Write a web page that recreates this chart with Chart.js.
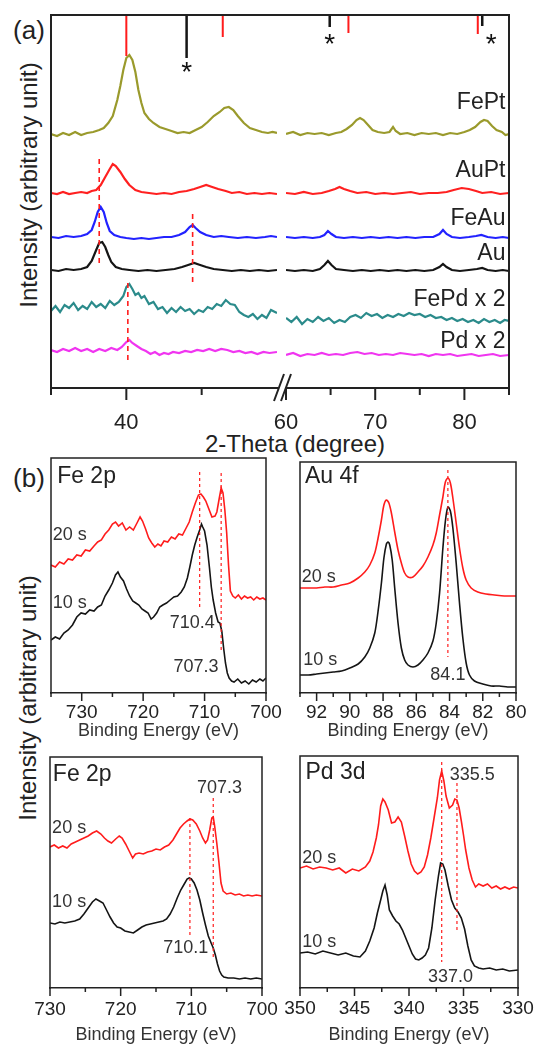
<!DOCTYPE html>
<html>
<head>
<meta charset="utf-8">
<script src="https://cdn.jsdelivr.net/npm/chart.js@4.4.1/dist/chart.umd.min.js"></script>
<style>
  html, body { margin: 0; padding: 0; background: #fff; }
  body { width: 535px; height: 1049px; position: relative; overflow: hidden;
         font-family: 'Liberation Sans', Arial, sans-serif; color: #222; }
  canvas.layer { position: absolute; left: 0; top: 0; width: 535px; height: 1049px; }
  .txt { position: absolute; white-space: nowrap; line-height: 1; transform: translate(-50%, -50%); }
  .rot { transform: translate(-50%, -50%) rotate(-90deg); }
</style>
</head>
<body>
<div class="txt" style="left:29px;top:30px;font-size:26px">(a)</div>
<div class="txt" style="left:29px;top:478px;font-size:26px">(b)</div>
<div class="txt rot" style="left:29px;top:185px;font-size:24px">Intensity (arbitrary unit)</div>
<div class="txt rot" style="left:28px;top:698px;font-size:24px">Intensity (arbitrary unit)</div>
<div class="txt" style="left:295px;top:444px;font-size:24px">2-Theta (degree)</div>

<canvas class="layer" id="xrdL" width="535" height="1049"></canvas>
<canvas class="layer" id="xrdR" width="535" height="1049"></canvas>
<canvas class="layer" id="fe1" width="535" height="1049"></canvas>
<canvas class="layer" id="au" width="535" height="1049"></canvas>
<canvas class="layer" id="fe2" width="535" height="1049"></canvas>
<canvas class="layer" id="pd" width="535" height="1049"></canvas>

<script>
'use strict';

// ===== XRD data (2-theta, intensity a.u.), left segment 35-50, right segment 60-85 =====
const FePt_L = [[35.0,254],[35.4,252],[35.8,255],[36.2,253],[36.6,256],[37.0,253],[37.4,255],[37.8,256],[38.2,258],[38.5,260],[38.8,265],[39.1,272],[39.4,288],[39.6,302],[39.8,318],[40.0,330],[40.2,333],[40.4,328],[40.6,316],[40.8,298],[41.0,285],[41.2,275],[41.5,269],[41.8,265],[42.2,261],[42.6,259],[43.0,257],[43.4,255],[43.8,256],[44.2,255],[44.6,258],[45.0,261],[45.4,266],[45.8,272],[46.2,276],[46.5,280],[46.8,281],[47.1,278],[47.4,272],[47.8,265],[48.2,260],[48.6,258],[49.0,256],[49.4,255],[49.7,256],[50.0,255]];
const FePt_R = [[60.0,254],[60.8,256],[61.6,253],[62.4,255],[63.2,254],[64.0,255],[64.8,253],[65.6,255],[66.2,256],[66.8,259],[67.4,263],[67.9,268],[68.3,270],[68.7,268],[69.2,263],[69.7,258],[70.3,256],[71.0,255],[71.6,256],[72.0,261],[72.3,257],[72.8,254],[73.6,255],[74.4,253],[75.2,255],[76.0,254],[76.8,255],[77.6,253],[78.4,255],[79.2,254],[80.0,256],[80.6,258],[81.2,261],[81.8,266],[82.2,268],[82.6,267],[83.1,262],[83.6,258],[84.2,256],[84.6,253],[85.0,254]];
const AuPt_L = [[35.0,195],[35.4,194],[35.8,196],[36.2,194],[36.6,195],[37.0,196],[37.4,195],[37.7,197],[38.0,198],[38.3,203],[38.6,211],[38.9,219],[39.1,224],[39.3,222],[39.6,216],[39.9,209],[40.2,203],[40.6,198],[41.0,196],[41.5,195],[42.0,194],[42.5,195],[43.0,194],[43.5,196],[44.0,197],[44.5,199],[44.9,201],[45.3,203],[45.7,201],[46.1,199],[46.6,197],[47.0,195],[47.5,196],[48.0,194],[48.5,195],[49.0,194],[49.5,195],[50.0,194]];
const AuPt_R = [[60.0,195],[61.0,194],[62.0,196],[63.0,194],[64.0,195],[64.8,197],[65.5,199],[66.0,201],[66.5,199],[67.2,197],[68.0,195],[69.0,196],[70.0,194],[71.0,195],[72.0,194],[73.0,195],[74.0,196],[75.0,194],[76.0,195],[77.0,195],[78.0,196],[78.8,198],[79.7,200],[80.5,199],[81.3,197],[82.0,195],[83.0,196],[84.0,194],[85.0,195]];
const FeAu_L = [[35.0,151],[35.5,150],[36.0,152],[36.5,151],[37.0,152],[37.4,154],[37.7,158],[37.9,166],[38.1,176],[38.3,181],[38.5,176],[38.7,165],[38.9,157],[39.2,153],[39.6,151],[40.0,150],[40.5,149],[41.0,150],[41.5,149],[42.0,150],[42.5,151],[43.0,151],[43.5,153],[43.9,156],[44.2,161],[44.4,163],[44.6,160],[44.9,156],[45.3,153],[45.8,151],[46.3,152],[46.8,151],[47.4,150],[48.0,151],[48.6,150],[49.2,151],[49.6,152],[50.0,151]];
const FeAu_R = [[60.0,151],[61.0,150],[62.0,151],[63.0,150],[63.8,151],[64.3,153],[64.7,157],[65.1,154],[65.6,151],[66.5,150],[67.5,151],[68.5,150],[69.5,151],[70.5,150],[71.5,151],[72.5,150],[73.5,151],[74.5,150],[75.5,151],[76.5,151],[77.2,154],[77.6,158],[78.0,154],[78.6,151],[79.5,150],[80.5,151],[81.3,152],[81.9,153],[82.6,151],[83.5,150],[84.3,151],[85.0,150]];
const Au_L = [[35.0,118],[35.5,117],[36.0,119],[36.5,118],[37.0,119],[37.4,121],[37.7,127],[38.0,138],[38.2,145],[38.4,146],[38.6,141],[38.8,133],[39.0,126],[39.3,121],[39.7,119],[40.2,118],[40.8,117],[41.4,118],[42.0,117],[42.6,118],[43.2,119],[43.7,121],[44.1,123],[44.5,125],[44.9,123],[45.3,121],[45.8,119],[46.4,118],[47.0,117],[47.6,118],[48.2,117],[48.8,118],[49.4,117],[50.0,118]];
const Au_R = [[60.0,118],[61.0,117],[62.0,118],[63.0,117],[63.8,119],[64.3,123],[64.7,127],[65.1,123],[65.6,119],[66.5,118],[67.5,117],[68.5,118],[69.5,117],[70.5,118],[71.5,117],[72.5,118],[73.5,117],[74.5,118],[75.5,117],[76.5,118],[77.2,121],[77.6,124],[78.0,121],[78.6,118],[79.5,117],[80.5,118],[81.4,119],[82.0,120],[82.6,118],[83.5,117],[84.3,118],[85.0,117]];
const FePd_L = [[35.0,77],[35.3,82],[35.6,76],[35.9,83],[36.2,80],[36.5,85],[36.8,78],[37.1,82],[37.4,79],[37.7,86],[38.0,81],[38.3,84],[38.6,80],[38.9,87],[39.2,83],[39.5,86],[39.8,92],[40.0,101],[40.2,104],[40.4,99],[40.6,93],[40.8,95],[41.0,90],[41.2,92],[41.5,84],[41.8,86],[42.1,79],[42.4,81],[42.7,75],[43.0,80],[43.3,76],[43.6,81],[43.9,77],[44.2,79],[44.5,74],[44.8,78],[45.1,76],[45.4,81],[45.7,79],[46.0,84],[46.3,82],[46.6,88],[46.9,84],[47.2,83],[47.5,76],[47.8,73],[48.1,71],[48.4,74],[48.7,69],[49.0,73],[49.3,70],[49.6,78],[50.0,75]];
const FePd_R = [[60.0,70],[60.6,66],[61.2,71],[61.8,64],[62.4,69],[63.0,66],[63.6,71],[64.2,67],[64.8,70],[65.4,65],[66.0,68],[66.6,66],[67.2,71],[67.8,73],[68.4,70],[69.0,75],[69.6,72],[70.2,74],[70.8,70],[71.4,73],[72.0,71],[72.6,74],[73.2,72],[73.8,75],[74.4,73],[75.0,74],[75.6,71],[76.2,73],[76.8,70],[77.4,71],[78.0,68],[78.6,70],[79.2,67],[79.8,69],[80.4,66],[81.0,68],[81.6,65],[82.2,69],[82.8,66],[83.4,68],[84.0,65],[84.5,68],[85.0,67]];
const Pd_L = [[35.0,38],[35.4,36],[35.8,39],[36.2,37],[36.6,40],[37.0,37],[37.4,39],[37.8,36],[38.2,39],[38.6,37],[39.0,40],[39.4,38],[39.7,41],[40.0,46],[40.2,48],[40.4,45],[40.7,42],[41.0,39],[41.3,37],[41.6,34],[41.9,36],[42.2,33],[42.5,35],[42.8,34],[43.1,36],[43.5,35],[43.9,37],[44.3,36],[44.7,38],[45.1,37],[45.5,39],[45.9,37],[46.3,39],[46.7,38],[47.1,36],[47.5,37],[47.9,35],[48.3,36],[48.7,34],[49.1,36],[49.5,35],[50.0,36]];
const Pd_R = [[60.0,33],[60.8,35],[61.6,32],[62.4,34],[63.2,33],[64.0,35],[64.8,33],[65.6,34],[66.4,33],[67.2,35],[68.0,36],[68.8,34],[69.6,35],[70.4,33],[71.2,34],[72.0,33],[72.8,35],[73.6,34],[74.4,33],[75.2,34],[76.0,32],[76.8,34],[77.6,33],[78.4,34],[79.2,32],[80.0,33],[80.8,34],[81.6,32],[82.4,33],[83.2,34],[84.0,32],[85.0,33]];

// reference patterns at the top: [2-theta, lower end]
const refRed   = [[40.0,332],[46.4,351],[67.0,355],[81.5,354]];
const refBlack = [[44.0,330],[64.9,361],[82.0,362]];
const refTop = 373;
// dashed guides in (a): [2-theta, from, to]
const xrdGuides = [[38.2,229,125],[44.4,174,103],[40.1,105,26]];
const xrdTicksL = [40], xrdTicksR = [60, 70, 80];

// ===== XPS data (binding energy eV, intensity a.u.) =====
const fe1_20s = [[735,128],[734.3,126],[733.6,131],[732.9,129],[732.2,134],[731.5,133],[730.8,138],[730.1,137],[729.4,143],[728.7,142],[728.0,147],[727.4,151],[726.8,153],[726.2,159],[725.6,163],[725.0,169],[724.5,171],[724.0,167],[723.4,170],[722.8,163],[722.2,166],[721.6,163],[721.0,170],[720.5,176],[720.1,172],[719.6,164],[719.1,155],[718.6,150],[718.1,146],[717.6,149],[717.1,147],[716.6,152],[716.0,151],[715.4,156],[714.8,154],[714.2,159],[713.6,158],[713.0,165],[712.5,171],[712.0,181],[711.5,190],[711.0,198],[710.6,199],[710.2,196],[709.8,192],[709.3,184],[708.8,176],[708.3,177],[708.0,181],[707.6,195],[707.3,205],[707.0,200],[706.7,183],[706.4,160],[706.1,128],[705.8,102],[705.4,97],[705.0,95],[704.5,98],[704.0,94],[703.5,97],[703.0,95],[702.5,96],[702.0,93],[701.5,96],[701.0,94],[700.5,95],[700.0,93]];
const fe1_10s = [[735,53],[734.3,56],[733.6,54],[732.9,60],[732.2,63],[731.5,68],[730.8,76],[730.1,80],[729.4,79],[728.7,83],[728.0,82],[727.4,86],[726.8,88],[726.2,97],[725.6,103],[725.0,110],[724.5,118],[724.1,121],[723.7,116],[723.2,112],[722.7,104],[722.2,97],[721.7,92],[721.2,90],[720.7,88],[720.2,84],[719.7,82],[719.2,80],[718.7,74],[718.3,76],[717.8,80],[717.3,86],[716.8,88],[716.2,90],[715.6,93],[715.0,96],[714.4,97],[713.8,101],[713.3,106],[712.8,115],[712.4,126],[712.0,138],[711.6,148],[711.2,156],[710.8,163],[710.5,169],[710.3,166],[710.0,162],[709.6,148],[709.2,125],[708.9,106],[708.6,93],[708.2,80],[707.8,71],[707.5,70],[707.2,62],[706.9,45],[706.6,30],[706.3,20],[706.0,15],[705.6,12],[705.2,11],[704.6,14],[704.0,10],[703.4,12],[702.8,9],[702.2,13],[701.6,11],[701.0,14],[700.5,12],[700.0,15]];
const fe1_guides = [[710.8,221,83],[707.3,220,40]];
const fe1_ticks = [730, 720, 710, 700];

const au_20s = [[93,105],[92.5,105],[92,105],[91.5,106],[91,106],[90.5,108],[90,110],[89.5,115],[89.1,121],[88.8,128],[88.5,140],[88.3,155],[88.1,173],[87.95,188],[87.8,193],[87.65,190],[87.5,180],[87.3,161],[87.1,143],[86.9,130],[86.7,120],[86.5,116],[86.2,116],[85.9,121],[85.6,127],[85.3,136],[85.0,148],[84.8,160],[84.6,178],[84.4,196],[84.25,211],[84.1,215],[83.95,210],[83.8,195],[83.6,170],[83.4,145],[83.2,125],[83.0,113],[82.7,105],[82.3,101],[81.8,99],[81.3,98],[80.7,97],[80.0,97]];
const au_10s = [[93,18],[92.5,18],[92,19],[91.5,20],[91,21],[90.5,22],[90,25],[89.5,29],[89.1,36],[88.8,45],[88.5,60],[88.3,82],[88.1,110],[87.95,135],[87.8,149],[87.7,151],[87.6,148],[87.45,133],[87.3,105],[87.1,70],[86.9,45],[86.7,33],[86.5,28],[86.2,26],[85.9,28],[85.6,33],[85.3,40],[85.0,52],[84.8,70],[84.6,100],[84.4,145],[84.25,172],[84.1,186],[83.95,182],[83.8,165],[83.6,130],[83.4,90],[83.2,55],[83.0,30],[82.8,18],[82.5,12],[82.0,9],[81.5,7],[81.0,7],[80.5,6],[80.0,6]];
const au_guides = [[84.1,223,36]];
const au_ticks = [92, 90, 88, 86, 84, 82, 80];

const fe2_20s = [[730,141],[729.4,143],[728.8,140],[728.2,142],[727.6,140],[727.0,144],[726.4,146],[725.8,148],[725.2,150],[724.6,152],[724.0,155],[723.4,157],[722.8,154],[722.3,150],[721.8,147],[721.3,145],[720.7,149],[720.2,152],[719.8,150],[719.3,144],[718.8,137],[718.3,130],[717.9,134],[717.4,135],[716.8,134],[716.2,136],[715.6,137],[715.0,139],[714.4,138],[713.8,141],[713.2,143],[712.6,148],[712.1,154],[711.6,160],[711.1,164],[710.6,167],[710.2,169],[709.8,168],[709.3,164],[708.8,157],[708.4,150],[708.0,145],[707.7,148],[707.4,158],[707.1,170],[706.9,171],[706.7,162],[706.4,145],[706.1,126],[705.8,105],[705.5,97],[705.0,94],[704.4,95],[703.8,93],[703.2,94],[702.6,92],[702.0,93],[701.4,92],[700.8,93],[700.0,92]];
const fe2_10s = [[730,65],[729.3,64],[728.6,66],[727.9,65],[727.2,66],[726.5,67],[725.8,69],[725.2,74],[724.6,80],[724.0,86],[723.5,89],[723.0,87],[722.5,85],[722.0,78],[721.5,71],[721.0,65],[720.5,61],[720.0,60],[719.4,57],[718.8,56],[718.2,55],[717.6,58],[717.0,61],[716.4,63],[715.8,64],[715.2,65],[714.6,66],[714.0,67],[713.5,69],[713.0,74],[712.5,81],[712.0,90],[711.5,98],[711.0,104],[710.6,109],[710.3,110],[710.0,109],[709.6,105],[709.2,98],[708.8,88],[708.4,75],[708.0,63],[707.6,52],[707.2,45],[706.9,40],[706.6,33],[706.3,24],[706.0,17],[705.7,13],[705.4,11],[704.8,10],[704.0,10],[703.2,9],[702.4,10],[701.6,9],[700.8,10],[700.0,9]];
const fe2_guides = [[710.2,170,50],[706.9,190,28]];
const fe2_ticks = [730, 720, 710, 700];

const pd_20s = [[350,120],[349.4,122],[348.8,119],[348.2,121],[347.6,120],[347.0,118],[346.4,120],[345.8,115],[345.2,119],[344.6,117],[344.0,121],[343.6,127],[343.3,136],[343.0,150],[342.8,163],[342.6,182],[342.4,189],[342.2,186],[341.9,178],[341.6,165],[341.3,166],[341.0,171],[340.7,166],[340.4,152],[340.1,137],[339.8,124],[339.5,117],[339.2,114],[338.9,116],[338.6,121],[338.3,133],[338.0,150],[337.7,170],[337.4,190],[337.2,208],[337.0,217],[336.8,207],[336.6,192],[336.3,180],[336.0,183],[335.8,189],[335.6,188],[335.4,180],[335.2,167],[335.0,153],[334.8,138],[334.5,120],[334.2,108],[333.9,101],[333.6,104],[333.2,102],[332.8,104],[332.4,100],[332.0,102],[331.6,99],[331.2,101],[330.8,99],[330.4,101],[330.0,100]];
const pd_10s = [[350,35],[349.3,36],[348.6,34],[347.9,37],[347.2,35],[346.5,33],[345.8,35],[345.1,32],[344.5,31],[344.0,37],[343.6,47],[343.2,60],[342.9,75],[342.6,88],[342.4,97],[342.2,103],[342.0,93],[341.8,78],[341.5,72],[341.2,67],[340.9,64],[340.6,58],[340.3,50],[340.0,42],[339.7,34],[339.4,29],[339.1,28],[338.8,30],[338.5,33],[338.2,40],[337.9,60],[337.6,88],[337.3,112],[337.1,125],[336.9,124],[336.7,118],[336.4,102],[336.1,88],[335.8,80],[335.5,76],[335.2,70],[334.9,59],[334.6,42],[334.3,28],[334.0,22],[333.6,20],[333.2,19],[332.6,20],[332.0,18],[331.4,19],[330.8,17],[330.0,18]];
const pd_guides = [[337.0,226,26],[335.6,205,56]];
const pd_ticks = [350, 345, 340, 335, 330];

// ===== styling =====
const W = 535, H = 1049;
const FONT = "'Liberation Sans', Arial, sans-serif";
const RED = '#ff1c1c', BLACK = '#151515';
const COL = { FePt: '#9a9a2c', AuPt: '#ff2020', FeAu: '#2222ff', Au: '#151515', FePd: '#2b8b8b', Pd: '#f035f0' };

// frame, tick marks, axis break and text notes
const deco = {
  id: 'deco',
  afterDraw(chart, args, o) {
    const { ctx, chartArea: a } = chart;
    const xs = chart.scales.x, ys = chart.scales.y;
    const f = o.frame || {};
    ctx.save();
    ctx.strokeStyle = '#222';
    ctx.lineWidth = o.lw;
    ctx.lineCap = 'square';
    ctx.beginPath();
    if (f.t) { ctx.moveTo(a.left, a.top); ctx.lineTo(a.right + (f.extR || 0), a.top); }
    if (f.l) { ctx.moveTo(a.left, a.top); ctx.lineTo(a.left, a.bottom); }
    if (f.r) { ctx.moveTo(a.right, a.top); ctx.lineTo(a.right, a.bottom); }
    ctx.stroke();
    ctx.lineCap = 'butt';
    xs.ticks.forEach(t => {
      if (o.skip && o.skip.includes(t.value)) return;
      const px = xs.getPixelForValue(t.value);
      const len = t.label !== '' ? o.majorLen : o.minorLen;
      ctx.beginPath(); ctx.moveTo(px, a.bottom); ctx.lineTo(px, a.bottom + len); ctx.stroke();
    });
    if (o.breakMark) {
      const r = a.right, b = a.bottom;
      ctx.lineWidth = 2;
      ctx.beginPath();
      ctx.moveTo(r - 3, b + 13); ctx.lineTo(r + 7, b - 14);
      ctx.moveTo(r + 4, b + 13); ctx.lineTo(r + 14, b - 14);
      ctx.stroke();
    }
    (o.notes || []).forEach(n => {
      ctx.font = (n.size || 18) + 'px ' + FONT;
      ctx.fillStyle = n.color || '#333';
      ctx.textAlign = n.align || 'left';
      ctx.textBaseline = 'middle';
      ctx.fillText(n.t, xs.getPixelForValue(n.x), ys.getPixelForValue(n.y));
    });
    ctx.restore();
  }
};
Chart.register(deco);

const pts = arr => arr.map(p => ({ x: p[0], y: p[1] }));
const curve = (arr, color, w, tension) => ({ data: pts(arr), borderColor: color, borderWidth: w, pointRadius: 0, tension: tension || 0, fill: false });
const vline = (x, y0, y1, color, w, dash) => ({ data: [{ x, y: y0 }, { x, y: y1 }], borderColor: color, borderWidth: w, borderDash: dash || [], pointRadius: 0, fill: false });

function makeChart(id, box, c) {
  return new Chart(document.getElementById(id), {
    type: 'line',
    data: { datasets: c.datasets },
    options: {
      responsive: false, animation: false, events: [],
      layout: { padding: { left: box.l, top: box.t, right: W - box.r, bottom: H - box.b - c.xh } },
      plugins: { legend: { display: false }, tooltip: { enabled: false }, deco: c.deco },
      scales: {
        x: {
          type: 'linear', min: c.min, max: c.max, reverse: !!c.reverse,
          afterFit(s) { s.height = c.xh; s.paddingLeft = 0; s.paddingRight = 0; },
          grid: { display: false, drawTicks: false },
          border: { display: true, color: '#222', width: c.deco.lw },
          ticks: {
            stepSize: c.step, autoSkip: false, maxRotation: 0, padding: c.tickPad, color: '#222',
            font: { family: FONT, size: c.tickSize },
            callback: v => c.labels.includes(v) ? String(v) : ''
          },
          title: c.title
            ? { display: true, text: c.title, padding: 0, color: '#333', font: { family: FONT, size: 18 } }
            : { display: false }
        },
        y: { display: false, min: 0, max: box.b - box.t }
      }
    }
  });
}

document.addEventListener('DOMContentLoaded', function () {
  // ===== (a) XRD, left part =====
  const dashA = [5, 4];
  const xw = 2.2;
  makeChart('xrdL', { l: 51, r: 277, t: 15, b: 388 }, {
    min: 35, max: 50, step: 5, labels: xrdTicksL, xh: 50, tickPad: 22, tickSize: 22,
    datasets: [
      ...xrdGuides.filter(g => g[0] <= 50).map(g => vline(g[0], g[1], g[2], RED, 1.6, dashA)),
      ...refRed.filter(r => r[0] <= 50).map(r => vline(r[0], refTop, r[1], RED, 2)),
      ...refBlack.filter(r => r[0] <= 50).map(r => vline(r[0], refTop, r[1], BLACK, 2.5)),
      curve(FePt_L, COL.FePt, xw), curve(AuPt_L, COL.AuPt, xw), curve(FeAu_L, COL.FeAu, xw),
      curve(Au_L, COL.Au, xw), curve(FePd_L, COL.FePd, xw), curve(Pd_L, COL.Pd, xw)
    ],
    deco: { lw: 2, frame: { t: 1, l: 1, extR: 9 }, majorLen: 12, minorLen: 7, skip: [50], breakMark: true,
            notes: [{ x: 44.0, y: 315, t: '*', size: 28, color: '#111', align: 'center' }] }
  });

  // ===== (a) XRD, right part =====
  const lab = (t, y) => ({ x: 84.6, y, t, size: 23, color: '#222', align: 'right' });
  makeChart('xrdR', { l: 286, r: 509, t: 15, b: 388 }, {
    min: 60, max: 85, step: 5, labels: xrdTicksR, xh: 50, tickPad: 22, tickSize: 22,
    datasets: [
      ...refRed.filter(r => r[0] >= 60).map(r => vline(r[0], refTop, r[1], RED, 2)),
      ...refBlack.filter(r => r[0] >= 60).map(r => vline(r[0], refTop, r[1], BLACK, 2.5)),
      curve(FePt_R, COL.FePt, xw), curve(AuPt_R, COL.AuPt, xw), curve(FeAu_R, COL.FeAu, xw),
      curve(Au_R, COL.Au, xw), curve(FePd_R, COL.FePd, xw), curve(Pd_R, COL.Pd, xw)
    ],
    deco: { lw: 2, frame: { t: 1, r: 1 }, majorLen: 12, minorLen: 7,
            notes: [lab('FePt', 285), lab('AuPt', 217), lab('FeAu', 169), lab('Au', 134), lab('FePd x 2', 88), lab('Pd x 2', 46),
                    { x: 64.9, y: 343, t: '*', size: 28, color: '#111', align: 'center' },
                    { x: 83.0, y: 343, t: '*', size: 28, color: '#111', align: 'center' }] }
  });

  // ===== (b) XPS panels =====
  const dot = [3, 3];
  const bw = 1.6;
  const xpsDeco = notes => ({ lw: 1.5, frame: { t: 1, l: 1, r: 1 }, majorLen: 8, minorLen: 4, notes });
  const head = (x, y, t) => ({ x, y, t, size: 23, color: '#222' });
  const note = (x, y, t, align, size) => ({ x, y, t, align: align || 'left', size: size || 18, color: '#333' });

  makeChart('fe1', { l: 51, r: 266, t: 458, b: 693 }, {
    min: 700, max: 735, reverse: true, step: 5, labels: fe1_ticks, xh: 49, tickPad: 8, tickSize: 19,
    title: 'Binding Energy (eV)',
    datasets: [
      ...fe1_guides.map(g => vline(g[0], g[1], g[2], RED, 1.2, dot)),
      curve(fe1_20s, RED, bw), curve(fe1_10s, BLACK, bw)
    ],
    deco: xpsDeco([head(734.0, 216, 'Fe 2p'), note(734.7, 158, '20 s'), note(734.7, 90, '10 s'),
                   note(712.0, 70, '710.4', 'center'), note(711.4, 26, '707.3', 'center')])
  });

  makeChart('au', { l: 300, r: 516, t: 462, b: 693 }, {
    min: 80, max: 93, reverse: true, step: 1, labels: au_ticks, xh: 49, tickPad: 8, tickSize: 19,
    title: 'Binding Energy (eV)',
    datasets: [
      ...au_guides.map(g => vline(g[0], g[1], g[2], RED, 1.2, dot)),
      curve(au_20s, RED, bw, 0.3), curve(au_10s, BLACK, bw, 0.3)
    ],
    deco: xpsDeco([head(92.7, 216, 'Au 4f'), note(92.9, 116, '20 s'), note(92.8, 33, '10 s'),
                   note(84.1, 18, '84.1', 'center')])
  });

  makeChart('fe2', { l: 50, r: 262, t: 757, b: 988 }, {
    min: 700, max: 730, reverse: true, step: 5, labels: fe2_ticks, xh: 58, tickPad: 10, tickSize: 19,
    title: 'Binding Energy (eV)',
    datasets: [
      ...fe2_guides.map(g => vline(g[0], g[1], g[2], RED, 1.2, dot)),
      curve(fe2_20s, RED, bw), curve(fe2_10s, BLACK, bw)
    ],
    deco: xpsDeco([head(729.6, 213, 'Fe 2p'), note(706.0, 200, '707.3', 'center'), note(729.7, 160, '20 s'),
                   note(729.7, 86, '10 s'), note(710.8, 40, '710.1', 'center')])
  });

  makeChart('pd', { l: 300, r: 518, t: 756, b: 988 }, {
    min: 330, max: 350, reverse: true, step: 2.5, labels: pd_ticks, xh: 58, tickPad: 9, tickSize: 19,
    title: 'Binding Energy (eV)',
    datasets: [
      ...pd_guides.map(g => vline(g[0], g[1], g[2], RED, 1.2, dot)),
      curve(pd_20s, RED, bw), curve(pd_10s, BLACK, bw)
    ],
    deco: xpsDeco([head(349.5, 215, 'Pd 3d'), note(334.2, 213, '335.5', 'center'), note(349.8, 130, '20 s'),
                   note(349.8, 46, '10 s'), note(336.2, 11, '337.0', 'center')])
  });
});
</script>
</body>
</html>
